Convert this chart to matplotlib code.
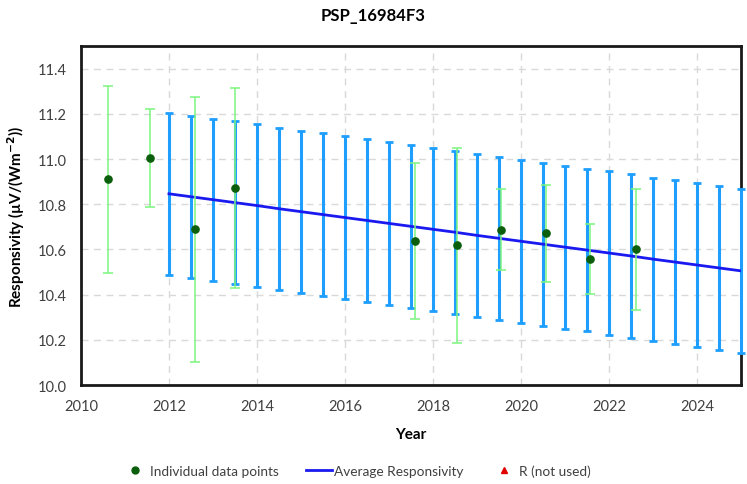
import matplotlib
matplotlib.use("Agg")
import matplotlib.pyplot as plt
from matplotlib.lines import Line2D

plt.rcParams['font.family'] = ['Lato', 'DejaVu Sans']

# Average responsivity curve (half-year steps) with uncertainty
avg_years = [2012.0, 2012.5, 2013.0, 2013.5, 2014.0, 2014.5, 2015.0, 2015.5, 2016.0,
             2016.5, 2017.0, 2017.5, 2018.0, 2018.5, 2019.0, 2019.5, 2020.0, 2020.5,
             2021.0, 2021.5, 2022.0, 2022.5, 2023.0, 2023.5, 2024.0, 2024.5, 2025.0]
avg_resp = [10.846, 10.833, 10.820, 10.807, 10.794, 10.780, 10.767, 10.754, 10.741,
            10.728, 10.715, 10.702, 10.689, 10.676, 10.662, 10.649, 10.636, 10.623,
            10.610, 10.597, 10.584, 10.571, 10.557, 10.544, 10.531, 10.518, 10.505]
avg_err = [0.358, 0.358, 0.359, 0.359, 0.359, 0.359, 0.359, 0.359, 0.359,
           0.359, 0.359, 0.360, 0.360, 0.360, 0.360, 0.360, 0.360, 0.360,
           0.360, 0.360, 0.361, 0.361, 0.361, 0.361, 0.361, 0.361, 0.362]

# Individual data points
pt_years = [2010.61, 2011.57, 2012.58, 2013.50, 2017.58, 2018.54, 2019.55, 2020.57, 2021.57, 2022.62]
pt_resp = [10.910, 11.006, 10.689, 10.873, 10.638, 10.618, 10.687, 10.672, 10.557, 10.600]
pt_err = [0.413, 0.217, 0.585, 0.442, 0.346, 0.431, 0.180, 0.215, 0.156, 0.266]

x_ticks = [2010, 2012, 2014, 2016, 2018, 2020, 2022, 2024]
y_ticks = [10.0, 10.2, 10.4, 10.6, 10.8, 11.0, 11.2, 11.4]

fig = plt.figure(figsize=(7.47, 4.85), dpi=100)
ax = fig.add_axes([0.1084, 0.2041, 0.8836, 0.699])

ax.errorbar(avg_years, avg_resp, yerr=avg_err, fmt='none', ecolor='#1E9FFF',
            elinewidth=2.2, capsize=3.0, capthick=2.0, zorder=3, clip_on=False)
ax.plot(avg_years, avg_resp, color='#1A1AF0', lw=2.0, zorder=4)
ax.errorbar(pt_years, pt_resp, yerr=pt_err, fmt='none', ecolor='#7DF57D',
            elinewidth=1.1, capsize=3.5, capthick=1.1, zorder=5)
ax.plot(pt_years, pt_resp, 'o', color='#0B5E0B', markersize=5.2, zorder=6)

ax.set_xlim(2010, 2025)
ax.set_ylim(10.0, 11.5)
ax.set_xticks(x_ticks)
ax.set_yticks(y_ticks)
ax.set_yticklabels([f"{v:.1f}" for v in y_ticks])
ax.tick_params(length=0, labelsize=10.5, labelcolor='#404040', pad=10)
ax.grid(True, color='#D9D9D9', linestyle=(0, (5, 4)), linewidth=1.0)
ax.set_axisbelow(True)
for s in ax.spines.values():
    s.set_linewidth(2.0)
    s.set_color('#1a1a1a')

ax.set_xlabel('Year', fontsize=11, fontweight='bold', labelpad=10)
ax.set_ylabel('Responsivity (µV/(Wm$^{\\mathbf{-2}}$))', fontsize=11, fontweight='bold', labelpad=8)
fig.text(0.5, 0.966, 'PSP_16984F3', ha='center', va='center', fontsize=12, fontweight='bold')

handles = [
    Line2D([], [], marker='o', color='#0B5E0B', linestyle='none', markersize=5),
    Line2D([], [], color='#1A1AF0', lw=2),
    Line2D([], [], marker='^', color='#E00000', linestyle='none', markersize=5),
]
labels = ['Individual data points', 'Average Responsivity', 'R (not used)']
fig.legend(handles, labels, loc='center', bbox_to_anchor=(0.477, 0.027), ncol=3,
           frameon=False, fontsize=9.8, columnspacing=2.0, handlelength=1.9,
           handletextpad=0.15, labelcolor='#404040')

fig.savefig('out.png', dpi=100)
